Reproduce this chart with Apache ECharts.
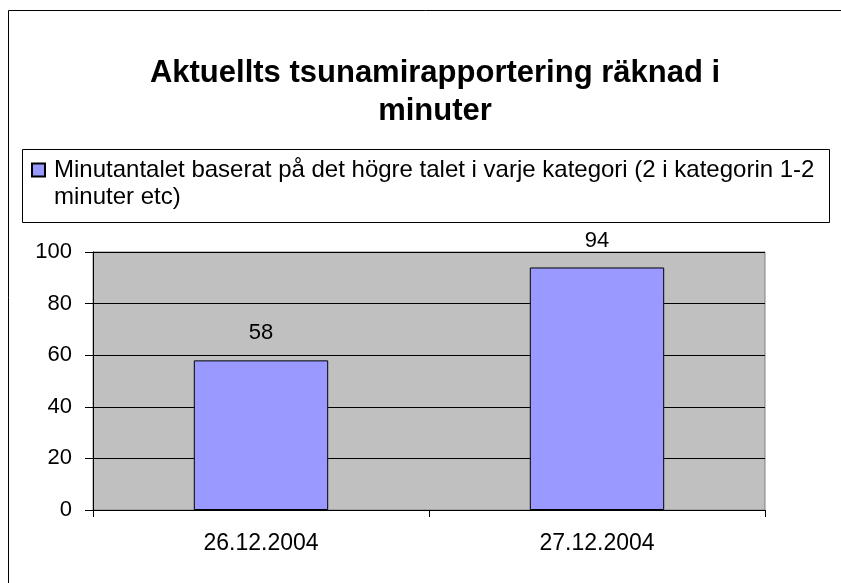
<!DOCTYPE html>
<html>
<head>
<meta charset="utf-8">
<script src="https://cdn.jsdelivr.net/npm/echarts@6/dist/echarts.min.js"></script>
<style>html,body{margin:0;padding:0;background:#fff}#c{width:841px;height:583px}</style>
</head>
<body>
<div id="c"></div>
<script>
var titleText = 'Aktuellts tsunamirapportering räknad i\nminuter';
var seriesName = 'Minutantalet baserat på det högre talet i varje kategori (2 i kategorin 1-2 minuter etc)';
var categories = ['26.12.2004', '27.12.2004'];
var values = [58, 94];
var yMin = 0, yMax = 100, yStep = 20;

var chart = echarts.init(document.getElementById('c'), null, {renderer: 'canvas'});
var FONT = '"Liberation Sans", Arial, sans-serif';
chart.setOption({
  animation: false,
  backgroundColor: '#ffffff',
  textStyle: {fontFamily: FONT},
  title: {
    text: titleText,
    left: 430,
    top: 49,
    textAlign: 'center',
    textStyle: {fontFamily: FONT, fontWeight: 'bold', fontSize: 31, lineHeight: 38, color: '#000'}
  },
  graphic: [
    {type: 'rect', silent: true, z: -1, shape: {x: 8.5, y: 10.5, width: 900, height: 700},
     style: {fill: 'none', stroke: '#000', lineWidth: 1}},
    {type: 'rect', silent: true, z: -1, shape: {x: 22.5, y: 149.5, width: 807, height: 73},
     style: {fill: '#fff', stroke: '#000', lineWidth: 1}}
  ],
  legend: {
    left: 31,
    top: 129.5,
    padding: 0,
    itemWidth: 13,
    itemHeight: 13,
    icon: 'rect',
    selectedMode: false,
    formatter: function (n) { return '\n' + n.replace('1-2 ', '1-2\n'); },
    textStyle: {fontFamily: FONT, fontSize: 24, lineHeight: 27, color: '#000', padding: [0, 0, 0, 4]}
  },
  grid: {left: 93, right: 76, top: 252, bottom: 73, show: true, backgroundColor: '#c0c0c0', borderColor: '#808080', borderWidth: 1},
  xAxis: {
    type: 'category',
    data: categories,
    axisLine: {lineStyle: {color: '#000', width: 1}},
    axisTick: {show: true, length: 7, lineStyle: {color: '#000'}},
    axisLabel: {fontFamily: FONT, fontSize: 23, color: '#000', margin: 22}
  },
  yAxis: {
    type: 'value',
    min: yMin, max: yMax, interval: yStep,
    axisLine: {show: true, lineStyle: {color: '#000', width: 1}},
    axisTick: {show: true, length: 8, lineStyle: {color: '#000'}},
    axisLabel: {fontFamily: FONT, fontSize: 22, color: '#000', margin: 21},
    splitLine: {show: true, lineStyle: {color: '#000', width: 1}}
  },
  series: [{
    name: seriesName,
    type: 'bar',
    data: values,
    barWidth: '40%',
    itemStyle: {color: '#9999ff', borderColor: '#000', borderWidth: 1},
    label: {show: true, position: 'top', distance: 16, fontFamily: FONT, fontSize: 22, color: '#000'}
  }]
});
</script>
</body>
</html>
